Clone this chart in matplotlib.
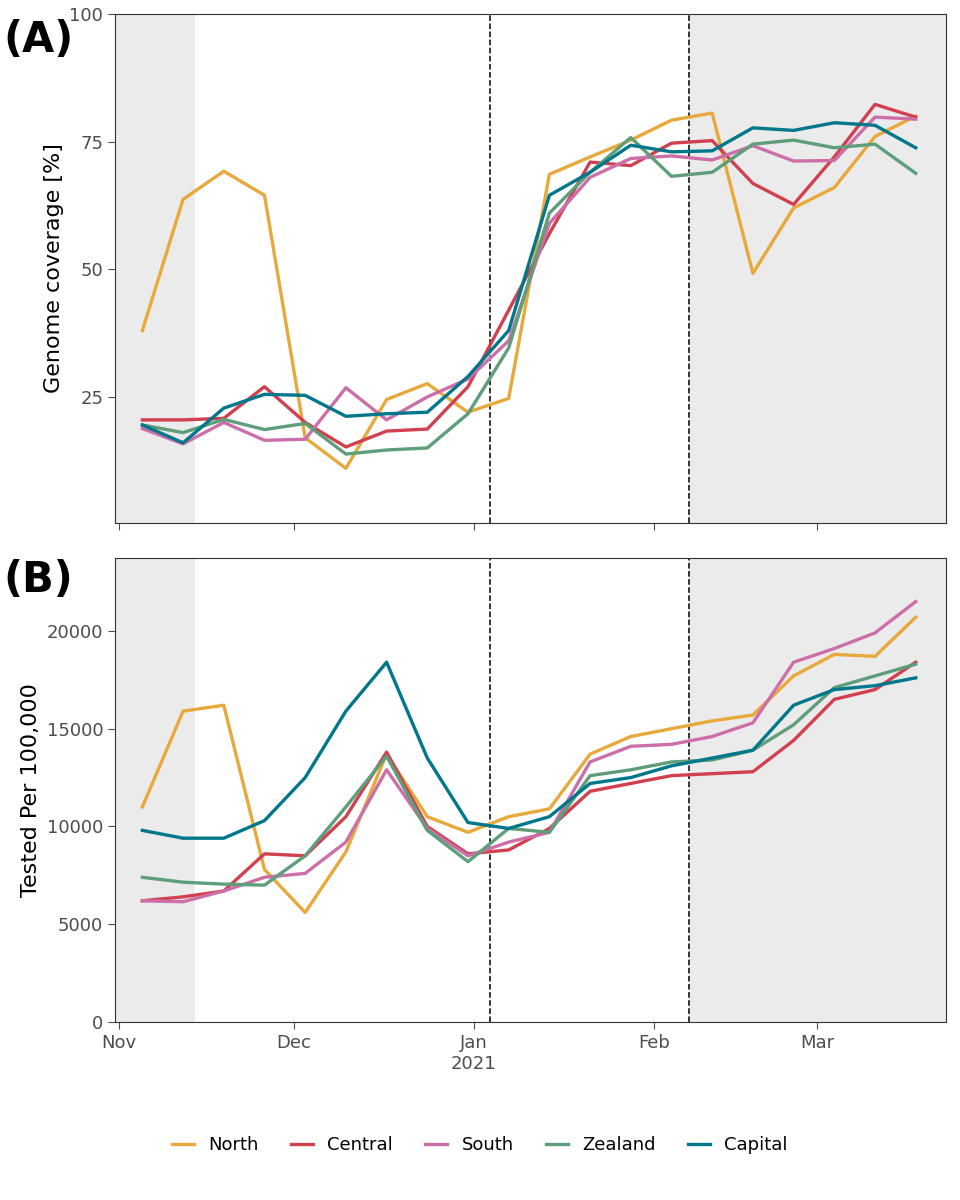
import datetime as dt
import matplotlib
matplotlib.use("Agg")
import matplotlib.pyplot as plt
import matplotlib.dates as mdates

dates = [dt.date(2020, 11, 5) + dt.timedelta(weeks=i) for i in range(20)]
regions = ["North", "Central", "South", "Zealand", "Capital"]
colors = ["#E8A93C", "#D1404F", "#CC6FA8", "#5E9E7A", "#00778A"]

coverage = {
    "North":   [38, 63.7, 69.2, 64.5, 17, 11, 24.5, 27.6, 22, 24.7, 68.6, 72, 75.3, 79.2, 80.6, 49.2, 62, 66, 76, 80],
    "Central": [20.5, 20.5, 20.8, 27, 20, 15.2, 18.3, 18.7, 27, 42, 57, 71, 70.3, 74.7, 75.2, 66.8, 62.7, 72, 82.3, 79.8],
    "South":   [18.8, 15.8, 20, 16.5, 16.7, 26.8, 20.5, 25, 28.5, 36, 59, 68, 71.7, 72.2, 71.4, 74.2, 71.2, 71.3, 79.8, 79.4],
    "Zealand": [19.5, 18, 20.6, 18.6, 19.8, 13.8, 14.6, 15, 21.7, 34.6, 61, 69, 75.8, 68.2, 69, 74.5, 75.3, 73.8, 74.5, 68.8],
    "Capital": [19.5, 16, 22.8, 25.5, 25.3, 21.2, 21.7, 22, 29, 38, 64.5, 69, 74.3, 73, 73.2, 77.7, 77.2, 78.7, 78.2, 73.8],
}
tested = {
    "North":   [11000, 15900, 16200, 7800, 5600, 8700, 13700, 10500, 9700, 10500, 10900, 13700, 14600, 15000, 15400, 15700, 17700, 18800, 18700, 20700],
    "Central": [6200, 6400, 6700, 8600, 8500, 10500, 13800, 10000, 8600, 8800, 9900, 11800, 12200, 12600, 12700, 12800, 14400, 16500, 17000, 18400],
    "South":   [6200, 6150, 6700, 7400, 7600, 9200, 12900, 9900, 8500, 9200, 9700, 13300, 14100, 14200, 14600, 15300, 18400, 19100, 19900, 21500],
    "Zealand": [7400, 7150, 7050, 7000, 8500, 11000, 13600, 9800, 8200, 9900, 9700, 12600, 12900, 13300, 13400, 13900, 15200, 17100, 17700, 18300],
    "Capital": [9800, 9400, 9400, 10300, 12500, 15900, 18400, 13500, 10200, 9900, 10500, 12200, 12500, 13100, 13500, 13900, 16200, 17000, 17200, 17600],
}

xmin = dt.datetime(2020, 10, 31, 7)
xmax = dt.datetime(2021, 3, 23, 5)
shade_left = dt.datetime(2020, 11, 14)
shade_right = dt.datetime(2021, 2, 7)
vlines = [dt.datetime(2021, 1, 3, 20), dt.datetime(2021, 2, 7)]

fig = plt.figure(figsize=(9.6, 12), dpi=100)
W, H = 960, 1200
axA = fig.add_axes([115 / W, 1 - 523 / H, (946 - 115) / W, (523 - 14) / H])
axB = fig.add_axes([115 / W, 1 - 1022 / H, (946 - 115) / W, (1022 - 558) / H])

for ax, data in ((axA, coverage), (axB, tested)):
    ax.axvspan(xmin, shade_left, color="#EBEBEB", lw=0)
    ax.axvspan(shade_right, xmax, color="#EBEBEB", lw=0)
    for v in vlines:
        ax.axvline(v, color="black", ls="--", lw=1.1)
    for r, c in zip(regions, colors):
        ax.plot(dates, data[r], color=c, lw=2.4, label=r)
    ax.set_xlim(xmin, xmax)
    ax.xaxis.set_major_locator(mdates.MonthLocator())
    for s in ax.spines.values():
        s.set_color("#333333")
    ax.tick_params(labelsize=13, colors="#4D4D4D", length=5)

axA.set_ylim(0.3, 100)
axA.set_yticks([25, 50, 75, 100])
axA.set_xticklabels([])
axA.set_ylabel("Genome coverage [%]", fontsize=16)

axB.set_ylim(0, 23730)
axB.set_yticks([0, 5000, 10000, 15000, 20000])
axB.set_xticks([dt.date(2020, 11, 1), dt.date(2020, 12, 1), dt.date(2021, 1, 1), dt.date(2021, 2, 1), dt.date(2021, 3, 1)])
axB.set_xticklabels(["Nov", "Dec", "Jan\n2021", "Feb", "Mar"])
axB.set_ylabel("Tested Per 100,000", fontsize=16)

fig.text(0.003, 1 - 40 / H, "(A)", fontsize=30, fontweight="bold", va="center")
fig.text(0.003, 1 - 580 / H, "(B)", fontsize=30, fontweight="bold", va="center")

h, l = axB.get_legend_handles_labels()
fig.legend(h, l, loc="center", bbox_to_anchor=(0.5, 1 - 1145 / H), ncol=5, frameon=False,
           fontsize=13, handlelength=1.2, columnspacing=1.8)

fig.savefig("out.png", dpi=100)
